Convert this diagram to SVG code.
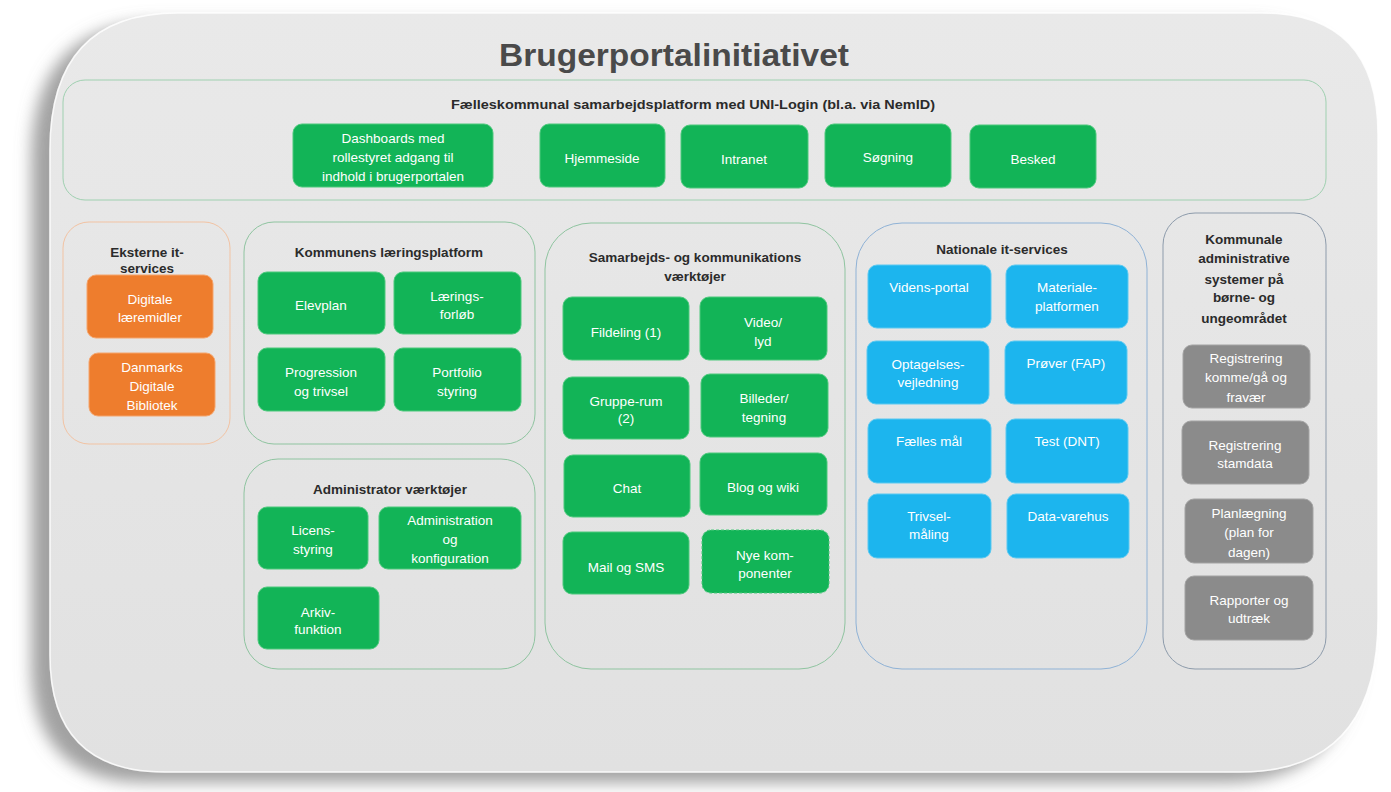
<svg xmlns="http://www.w3.org/2000/svg" width="1391" height="792" viewBox="0 0 1391 792">
<defs>
<filter id="sh" x="-10%" y="-10%" width="120%" height="125%">
<feDropShadow dx="-18" dy="10" stdDeviation="8" flood-color="#8a8a8a" flood-opacity="0.8"/>
</filter>
<linearGradient id="fr" x1="0" y1="0" x2="0" y2="1">
<stop offset="0" stop-color="#e9e9e9"/>
<stop offset="1" stop-color="#e1e1e1"/>
</linearGradient>
</defs>
<style>
text{font-family:"Liberation Sans",Arial,sans-serif;text-anchor:middle}
.t{font-size:13.5px;font-weight:bold;fill:#2b2b2b}
.b{font-size:13.5px;fill:#ffffff}
.grn{fill:#12b457;stroke:#4cc97c;stroke-width:1}
.org{fill:#ee7d2d;stroke:#f5a56c;stroke-width:1}
.blu{fill:#1cb5ee;stroke:#5ac9f1;stroke-width:1}
.gry{fill:#8b8b8b;stroke:#a3a3a3;stroke-width:1}
.c{fill:none;stroke-width:1}
</style>
<rect width="1391" height="792" fill="#ffffff"/>
<path id="frame" d="M178 13 H1262 Q1378 13 1378 135 V618 Q1378 772 1240 772 H165 Q50 772 50 655 V150 Q50 13 178 13 Z" fill="url(#fr)" stroke="#ffffff" stroke-opacity="0.85" stroke-width="1.5" filter="url(#sh)"/>
<text x="674" y="66" style="font-size:31px;font-weight:bold;fill:#4a4a4a" textLength="350" lengthAdjust="spacingAndGlyphs">Brugerportalinitiativet</text>

<g id="top">
<rect x="63" y="80" width="1263" height="120" rx="22" class="c" stroke="#9fd0b0"/>
<text x="693" y="109" class="t" textLength="484" lengthAdjust="spacingAndGlyphs">Fælleskommunal samarbejdsplatform med UNI-Login (bl.a. via NemID)</text>
</g>
<g id="dashboards"><rect x="293" y="124" width="200" height="63" rx="9" class="grn"/>
<text class="b" x="393" y="143">Dashboards med</text><text class="b" x="393" y="162">rollestyret  adgang til</text><text class="b" x="393" y="181">indhold i brugerportalen</text></g>
<g id="hjemmeside"><rect x="540" y="124" width="125" height="63" rx="9" class="grn"/><text class="b" x="602" y="163">Hjemmeside</text></g>
<g id="intranet"><rect x="681" y="125" width="127" height="63" rx="9" class="grn"/><text class="b" x="744" y="164">Intranet</text></g>
<g id="sogning"><rect x="825" y="124" width="126" height="63" rx="9" class="grn"/><text class="b" x="888" y="162">Søgning</text></g>
<g id="besked"><rect x="970" y="125" width="126" height="63" rx="9" class="grn"/><text class="b" x="1033" y="164">Besked</text></g>

<g id="eksterne">
<rect x="63" y="222" width="167" height="222" rx="26" class="c" stroke="#f2c3a3"/>
<text class="t" x="147" y="257">Eksterne it-</text><text class="t" x="147" y="273">services</text>
</g>
<g id="digitale"><rect x="87" y="275" width="126" height="63" rx="9" class="org"/><text class="b" x="150" y="304">Digitale</text><text class="b" x="150" y="322">læremidler</text></g>
<g id="ddb"><rect x="89" y="353" width="126" height="63" rx="9" class="org"/><text class="b" x="152" y="372">Danmarks</text><text class="b" x="152" y="391">Digitale</text><text class="b" x="152" y="410">Bibliotek</text></g>

<g id="laering">
<rect x="244" y="222" width="291" height="222" rx="30" class="c" stroke="#8fc4a0"/>
<text class="t" x="389" y="257">Kommunens læringsplatform</text>
</g>
<g id="elevplan"><rect x="258" y="272" width="127" height="62" rx="9" class="grn"/><text class="b" x="321" y="310">Elevplan</text></g>
<g id="laeringsforlob"><rect x="394" y="272" width="127" height="62" rx="9" class="grn"/><text class="b" x="457" y="301">Lærings-</text><text class="b" x="457" y="319">forløb</text></g>
<g id="progression"><rect x="258" y="348" width="127" height="63" rx="9" class="grn"/><text class="b" x="321" y="377">Progression</text><text class="b" x="321" y="396">og trivsel</text></g>
<g id="portfolio"><rect x="394" y="348" width="127" height="63" rx="9" class="grn"/><text class="b" x="457" y="377">Portfolio</text><text class="b" x="457" y="396">styring</text></g>

<g id="admin">
<rect x="244" y="459" width="291" height="210" rx="34" class="c" stroke="#8fc4a0"/>
<text class="t" x="390" y="494">Administrator værktøjer</text>
</g>
<g id="licens"><rect x="258" y="507" width="110" height="62" rx="9" class="grn"/><text class="b" x="313" y="535">Licens-</text><text class="b" x="313" y="554">styring</text></g>
<g id="adminkonf"><rect x="379" y="507" width="142" height="62" rx="9" class="grn"/><text class="b" x="450" y="525">Administration</text><text class="b" x="450" y="544">og</text><text class="b" x="450" y="563">konfiguration</text></g>
<g id="arkiv"><rect x="258" y="587" width="121" height="62" rx="9" class="grn"/><text class="b" x="318" y="617">Arkiv-</text><text class="b" x="318" y="634">funktion</text></g>

<g id="samarbejd">
<rect x="545" y="223" width="300" height="446" rx="46" class="c" stroke="#8fc4a0"/>
<text class="t" x="695" y="262">Samarbejds- og kommunikations</text><text class="t" x="695" y="281">værktøjer</text>
</g>
<g id="fildeling"><rect x="563" y="297" width="126" height="63" rx="9" class="grn"/><text class="b" x="626" y="337">Fildeling (1)</text></g>
<g id="video"><rect x="700" y="297" width="127" height="63" rx="9" class="grn"/><text class="b" x="763" y="327">Video/</text><text class="b" x="763" y="346">lyd</text></g>
<g id="gruppe"><rect x="563" y="377" width="126" height="62" rx="9" class="grn"/><text class="b" x="626" y="406">Gruppe-rum</text><text class="b" x="626" y="423">(2)</text></g>
<g id="billeder"><rect x="701" y="374" width="127" height="63" rx="9" class="grn"/><text class="b" x="764" y="403">Billeder/</text><text class="b" x="764" y="422">tegning</text></g>
<g id="chat"><rect x="564" y="455" width="126" height="62" rx="9" class="grn"/><text class="b" x="627" y="493">Chat</text></g>
<g id="blog"><rect x="700" y="453" width="127" height="62" rx="9" class="grn"/><text class="b" x="763" y="492">Blog og wiki</text></g>
<g id="mail"><rect x="563" y="532" width="126" height="62" rx="9" class="grn"/><text class="b" x="626" y="572">Mail  og SMS</text></g>
<g id="nye"><rect x="702" y="530" width="127" height="63" rx="9" class="grn" stroke="#3a9a5e" stroke-dasharray="3 2"/><text class="b" x="765" y="560">Nye kom-</text><text class="b" x="765" y="578">ponenter</text></g>

<g id="nationale">
<rect x="856" y="223" width="291" height="446" rx="46" class="c" stroke="#8fb2d6"/>
<text class="t" x="1002" y="254">Nationale it-services</text>
</g>
<g id="videns"><rect x="868" y="265" width="123" height="63" rx="9" class="blu"/><text class="b" x="929" y="292">Videns-portal</text></g>
<g id="materiale"><rect x="1006" y="265" width="122" height="63" rx="9" class="blu"/><text class="b" x="1067" y="292">Materiale-</text><text class="b" x="1067" y="311">platformen</text></g>
<g id="optagelse"><rect x="867" y="341" width="122" height="63" rx="9" class="blu"/><text class="b" x="928" y="369">Optagelses-</text><text class="b" x="928" y="387">vejledning</text></g>
<g id="prover"><rect x="1005" y="341" width="122" height="63" rx="9" class="blu"/><text class="b" x="1066" y="368">Prøver (FAP)</text></g>
<g id="faelles"><rect x="868" y="419" width="123" height="64" rx="9" class="blu"/><text class="b" x="929" y="446">Fælles mål</text></g>
<g id="test"><rect x="1006" y="419" width="122" height="64" rx="9" class="blu"/><text class="b" x="1067" y="446">Test (DNT)</text></g>
<g id="trivsel"><rect x="868" y="494" width="123" height="64" rx="9" class="blu"/><text class="b" x="929" y="521">Trivsel-</text><text class="b" x="929" y="539">måling</text></g>
<g id="datavarehus"><rect x="1007" y="494" width="122" height="64" rx="9" class="blu"/><text class="b" x="1068" y="521">Data-varehus</text></g>

<g id="kommunale">
<rect x="1163" y="213" width="163" height="456" rx="32" class="c" stroke="#8d9bab"/>
<text class="t" x="1244" y="244">Kommunale</text><text class="t" x="1244" y="263">administrative</text><text class="t" x="1244" y="284">systemer på</text><text class="t" x="1244" y="302">børne- og</text><text class="t" x="1244" y="323">ungeområdet</text>
</g>
<g id="reg1"><rect x="1183" y="345" width="127" height="63" rx="9" class="gry"/><text class="b" x="1246" y="363">Registrering</text><text class="b" x="1246" y="382">komme/gå og</text><text class="b" x="1246" y="402">fravær</text></g>
<g id="reg2"><rect x="1182" y="421" width="127" height="63" rx="9" class="gry"/><text class="b" x="1245" y="450">Registrering</text><text class="b" x="1245" y="468">stamdata</text></g>
<g id="plan"><rect x="1185" y="499" width="128" height="64" rx="9" class="gry"/><text class="b" x="1249" y="518">Planlægning</text><text class="b" x="1249" y="537">(plan for</text><text class="b" x="1249" y="557">dagen)</text></g>
<g id="rapporter"><rect x="1185" y="576" width="128" height="64" rx="9" class="gry"/><text class="b" x="1249" y="605">Rapporter og</text><text class="b" x="1249" y="623">udtræk</text></g>
<g id="connectors"></g>
</svg>
